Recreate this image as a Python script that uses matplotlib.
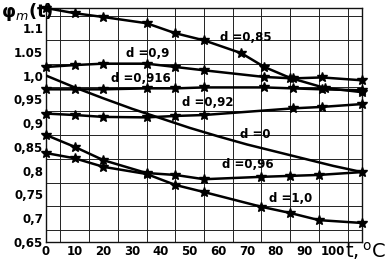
import matplotlib
matplotlib.use("Agg")
import matplotlib.pyplot as plt
import numpy as np

plt.rcParams['font.family'] = ['DejaVu Sans']
plt.rcParams['mathtext.fontset'] = 'dejavusans'

# ---- data ----
d085_t = [0, 10, 20, 35, 45, 55, 68, 76, 85, 97, 110]
d085 = [1.142, 1.131, 1.123, 1.110, 1.089, 1.074, 1.047, 1.018, 0.995, 0.974, 0.965]

d09_t = [0, 10, 20, 35, 45, 55, 76, 86, 96, 110]
d09 = [1.018, 1.022, 1.025, 1.025, 1.018, 1.011, 0.997, 0.994, 0.996, 0.990]

d0916_t = [0, 10, 20, 35, 45, 55, 76, 86, 96, 110]
d0916 = [0.971, 0.971, 0.971, 0.973, 0.973, 0.975, 0.975, 0.973, 0.971, 0.969]

d092_t = [0, 10, 20, 35, 45, 55, 86, 96, 110]
d092 = [0.920, 0.917, 0.913, 0.912, 0.915, 0.917, 0.931, 0.934, 0.940]

d0_t = [0, 10, 20, 30, 40, 50, 60, 70, 80, 90, 100, 110]
d0 = [1.0, 0.975, 0.952, 0.930, 0.910, 0.890, 0.872, 0.855, 0.840, 0.825, 0.810, 0.797]

d096_t = [0, 10, 20, 35, 45, 55, 75, 85, 95, 110]
d096 = [0.875, 0.850, 0.822, 0.795, 0.791, 0.782, 0.787, 0.789, 0.791, 0.797]

d10_t = [0, 10, 20, 35, 45, 55, 75, 85, 95, 110]
d10 = [0.837, 0.826, 0.808, 0.793, 0.770, 0.755, 0.724, 0.711, 0.696, 0.690]

x_ticks = [0, 10, 20, 30, 40, 50, 60, 70, 80, 90, 100]
y_ticks = [0.65, 0.7, 0.75, 0.8, 0.85, 0.9, 0.95, 1.0, 1.05, 1.1]
y_tick_labels = ["0,65", "0,7", "0,75", "0,8", "0,85", "0,9", "0,95", "1,0", "1.05", "1.1"]

labels = ["d =0,85", "d =0,9", "d =0,916", "d =0,92", "d =0", "d =0,96", "d =1,0"]
label_pos = [(69.6, 1.081), (35.3, 1.047), (33.2, 0.9945), (56.3, 0.944),
             (73.0, 0.875), (70.3, 0.812), (85.3, 0.742)]

# ---- figure ----
fig = plt.figure(figsize=(3.91, 2.64), dpi=100)
ax = fig.add_axes([46 / 391, 22 / 264, (362 - 46) / 391, (256 - 22) / 264])

ax.set_xlim(0, 110)
ax.set_ylim(0.65, 1.142)

# grid
ax.set_xticks(np.arange(0, 111, 5), minor=True)
ax.set_yticks(np.arange(0.65, 1.15, 0.025), minor=True)
ax.grid(which='minor', color='#222222', linewidth=0.7)
ax.set_axisbelow(True)

ax.set_xticks(x_ticks)
ax.set_xticklabels([str(v) for v in x_ticks], fontsize=8.5, fontweight='bold')
ax.set_yticks(y_ticks)
ax.set_yticklabels(y_tick_labels, fontsize=8.5, fontweight='bold')
ax.tick_params(which='both', length=0, pad=2)
for s in ax.spines.values():
    s.set_linewidth(1.0)
    s.set_color('#111111')

series = [(d085_t, d085), (d09_t, d09), (d0916_t, d0916), (d092_t, d092),
          (d096_t, d096), (d10_t, d10)]
for t, v in series:
    ax.plot(t, v, color='black', linewidth=1.8, marker='*', markersize=7,
            clip_on=False, zorder=3)
ax.plot(d0_t, d0, color='black', linewidth=1.8, zorder=3)

for txt, (tx, ty) in zip(labels, label_pos):
    ax.text(tx, ty, txt, fontsize=8.5, fontweight='bold', ha='center', va='center', zorder=4)

fig.text(1 / 391, 1 - 12 / 264, r'$\mathbf{\varphi}_{m}\mathbf{(t)}$', fontsize=13,
         ha='left', va='center')
fig.text(345 / 391, 1 - 251 / 264, r'$\mathrm{t,}^{\mathrm{o}}\mathrm{C}$', fontsize=14,
         ha='left', va='center')

fig.savefig('out.png', dpi=100)
